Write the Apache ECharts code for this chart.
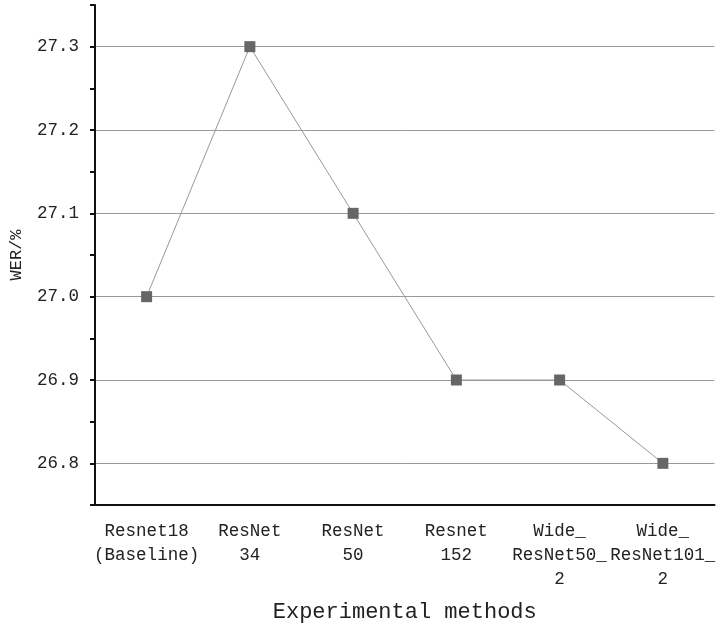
<!DOCTYPE html>
<html>
<head>
<meta charset="utf-8">
<script src="https://cdn.jsdelivr.net/npm/echarts@6/dist/echarts.min.js"></script>
<style>
  html, body { margin: 0; padding: 0; background: #fff; }
  #chart { width: 718px; height: 629px; }
</style>
</head>
<body>
<div id="chart"></div>
<script>
    // data
    var categories = ['Resnet18\n(Baseline)', 'ResNet\n34', 'ResNet\n50', 'Resnet\n152', 'Wide_\nResNet50_\n2', 'Wide_\nResNet101_\n2'];
    var werValues = [27.0, 27.3, 27.1, 26.9, 26.9, 26.8];
    var yTickLabels = ['26.8', '26.9', '27.0', '27.1', '27.2', '27.3'];

    var chart = echarts.init(document.getElementById('chart'));
    var font = 'Liberation Mono';
    var axisColor = '#111';

    var option = {
        backgroundColor: '#fff',
        animation: false,
        grid: { left: 94, right: 0, top: 5, bottom: 124 },
        xAxis: [{
            type: 'category',
            data: categories,
            boundaryGap: true,
            name: 'Experimental methods',
            nameLocation: 'middle',
            nameGap: 96,
            nameTextStyle: { fontFamily: font, fontSize: 22, color: '#222' },
            axisLine: { lineStyle: { color: axisColor, width: 2 } },
            axisTick: { length: 5, inside: false, lineStyle: { color: axisColor, width: 2 } },
            axisLabel: {
                interval: 0,
                margin: 14,
                fontFamily: font,
                fontSize: 17.5,
                lineHeight: 24,
                color: '#222'
            },
            splitLine: { show: false }
        }, {
            // longer ticks at category centres
            type: 'category',
            data: categories,
            position: 'bottom',
            boundaryGap: true,
            axisLine: { show: false },
            axisTick: { alignWithLabel: true, length: 9, lineStyle: { color: axisColor, width: 2 } },
            axisLabel: { show: false },
            splitLine: { show: false }
        }],
        yAxis: [{
            type: 'value',
            min: 26.75,
            max: 27.35,
            interval: 0.05,
            name: 'WER/%',
            nameLocation: 'middle',
            nameGap: 70,
            nameTextStyle: { fontFamily: font, fontSize: 17, color: '#222' },
            axisLine: { show: true, lineStyle: { color: axisColor, width: 2 } },
            axisTick: { show: true, length: 5, lineStyle: { color: axisColor, width: 2 } },
            axisLabel: {
                margin: 16,
                fontFamily: font,
                fontSize: 17.5,
                color: '#222',
                formatter: function (v) {
                    var label = v.toFixed(1);
                    return yTickLabels.indexOf(label) >= 0 && Math.abs(v - parseFloat(label)) < 1e-6 ? label : '';
                }
            },
            splitLine: {
                show: true,
                lineStyle: { color: ['transparent', '#999'], width: 1 }
            }
        }, {
            // longer ticks at labelled values
            type: 'category',
            data: yTickLabels,
            position: 'left',
            boundaryGap: true,
            axisLine: { show: false },
            axisTick: { alignWithLabel: true, length: 9, lineStyle: { color: axisColor, width: 2 } },
            axisLabel: { show: false },
            splitLine: { show: false }
        }],
        series: [{
            name: 'WER',
            type: 'line',
            data: werValues,
            symbol: 'rect',
            symbolSize: 11,
            itemStyle: { color: '#666' },
            lineStyle: { color: '#999', width: 1 },
            z: 3
        }]
    };

    chart.setOption(option);

    window.onresize = function () {
        chart.resize();
    }
</script>
</body>
</html>
